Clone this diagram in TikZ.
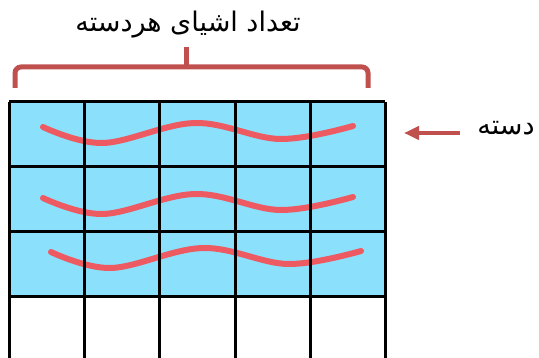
\documentclass[tikz,border=0pt]{standalone}
\usepackage{fontspec}
\usetikzlibrary{arrows.meta,positioning}
\newfontfamily\farsi[Script=Arabic]{DejaVu Sans}
\TeXXeTstate=1
\definecolor{CellBlue}{HTML}{8BE0FC}
\definecolor{WaveRed}{HTML}{EE5A62}
\definecolor{BraceRed}{HTML}{C0504D}

\begin{document}
\begin{tikzpicture}[x=1pt,y=-1pt,>=Latex]
\useasboundingbox (0,0) rectangle (539,358);
% filled rows
\fill[CellBlue] (9,102) rectangle (385,297);
\foreach \dx/\dy in {0/0,0/71,8/125}
  \draw[WaveRed,line width=6,line cap=round,shift={(\dx,\dy)}] plot[smooth,tension=0.6] coordinates {(43,127) (103,143) (195,123) (280,139) (353,126)};
% grid
\foreach \x in {9,84,159,235,310,385}
  \draw[line width=3] (\x,102) -- (\x,362);
\foreach \y in {102,167,232,297}
  \draw[line width=3] (9,\y) -- (385,\y);
% brace
\draw[BraceRed,line width=5,rounded corners=6] (15,88) -- (15,67) -- (368,67) -- (368,88);
\draw[BraceRed,line width=5] (186,68) -- (186,47);
\node[font=\farsi\fontsize{27}{32}\selectfont] (title) at (188,25) {\beginR تعداد اشیای هردسته\endR};
% label
\node[font=\farsi\fontsize{27}{32}\selectfont] (dasta) at (506,128) {\beginR دسته\endR};
\coordinate (arrowtip) at (404,133);
\draw[->,BraceRed,line width=4.5,arrows={-Triangle[length=15,width=13]}] ([xshift=-14]dasta.west |- arrowtip) -- (arrowtip);
\end{tikzpicture}
\end{document}
